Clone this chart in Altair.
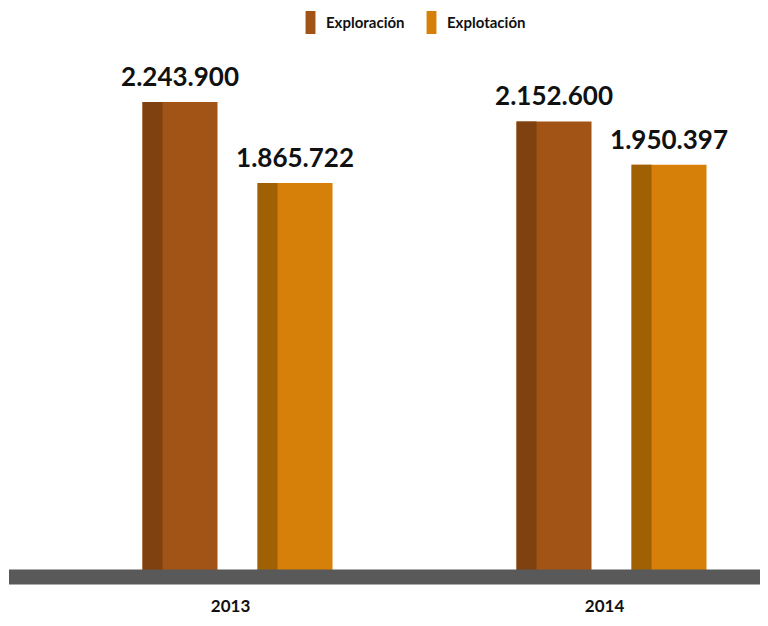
import altair as alt
import pandas as pd

years = ["2013", "2014"]
series = ["Exploración", "Explotación"]
exploracion = [2243900, 2152600]
explotacion = [1865722, 1950397]

main_colors = ["#A25316", "#D6800A"]
dark_colors = ["#7E410F", "#A06004"]

rows = []
for i, y in enumerate(years):
    rows.append({"year": y, "serie": series[0], "value": exploracion[i]})
    rows.append({"year": y, "serie": series[1], "value": explotacion[i]})
df = pd.DataFrame(rows)
df["label"] = df["value"].map(lambda v: f"{v:,}".replace(",", "."))

FONT = "Lato"
W, H = 751, 575
YMAX = 2682000

x_enc = alt.X(
    "year:N",
    sort=years,
    title=None,
    scale=alt.Scale(paddingInner=0.492, paddingOuter=0.25, align=0.714),
    axis=alt.Axis(
        domain=False, ticks=False, tickSize=0, labelAngle=0,
        labelFont=FONT, labelFontSize=17, labelFontWeight="bold",
        labelColor="#111111", labelOffset=-7, labelPadding=28,
        labelBaseline="alphabetic",
    ),
)
xo_enc = alt.XOffset("serie:N", sort=series,
                     scale=alt.Scale(type="band", paddingInner=0.348, paddingOuter=0))
xo_stripe = alt.XOffset("serie:N", sort=series,
                        scale=alt.Scale(type="band", paddingInner=0.826,
                                        paddingOuter=0.239, align=0))
y_enc = alt.Y("value:Q", scale=alt.Scale(domain=[0, YMAX]), axis=None)

base = alt.Chart(df)

bars = base.mark_bar().encode(
    x=x_enc, xOffset=xo_enc, y=y_enc,
    color=alt.Color(
        "serie:N", sort=series,
        scale=alt.Scale(domain=series, range=main_colors),
        legend=alt.Legend(
            title=None, orient="none", legendX=290, legendY=3,
            direction="horizontal", padding=0,
            symbolType="M-0.43,-1L0.43,-1L0.43,1L-0.43,1Z",
            symbolSize=529, symbolStrokeWidth=0, symbolOpacity=1,
            labelFont=FONT, labelFontSize=15, labelFontWeight="bold",
            labelColor="#111111", labelOffset=4, columnPadding=15,
        ),
    ),
)

stripes = base.mark_bar().encode(
    x=x_enc, xOffset=xo_stripe, y=y_enc,
    color=alt.Color("serie:N", sort=series,
                    scale=alt.Scale(domain=series, range=dark_colors),
                    legend=None),
)

band = alt.Chart(pd.DataFrame({"v": [0]})).mark_rule(
    color="#595959", strokeWidth=15, yOffset=-6
).encode(y=alt.Y("v:Q", scale=alt.Scale(domain=[0, YMAX]), axis=None),
         x=alt.value(0), x2=alt.value(W))

labels = base.mark_text(
    font=FONT, fontSize=26, fontWeight="bold", baseline="alphabetic",
    dy=-16, color="#111111",
).encode(x=x_enc, xOffset=xo_enc, y=y_enc, text="label:N")

chart = alt.layer(bars, stripes, band, labels).resolve_scale(
    color="independent", xOffset="independent"
).properties(
    width=W, height=H,
    autosize=alt.AutoSizeParams(type="none"),
    padding={"left": 1, "right": 0, "top": 0, "bottom": 33},
).configure_view(stroke=None)

chart.save("out.html", embed_options={"renderer": "svg", "actions": False})
